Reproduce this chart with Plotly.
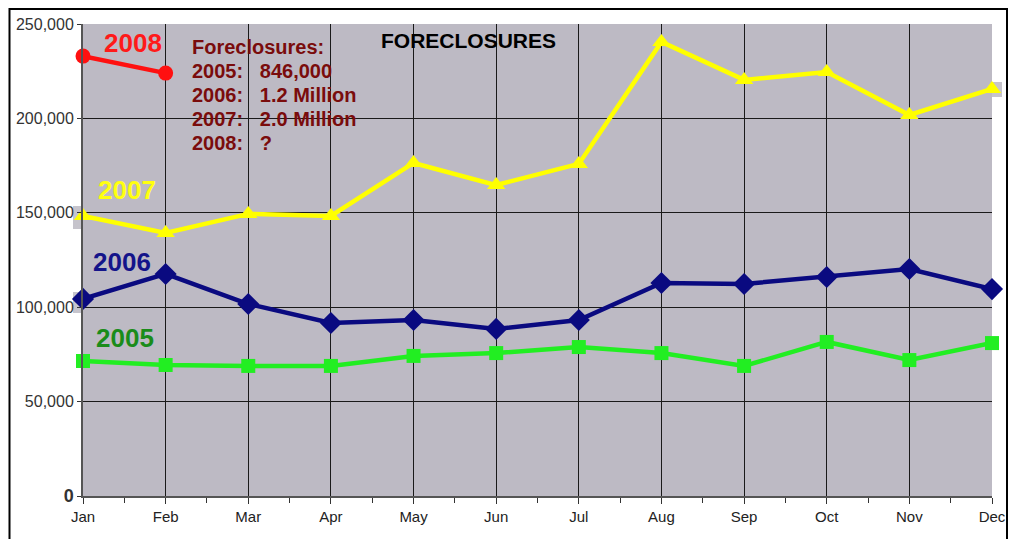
import plotly.graph_objects as go

months = ["Jan", "Feb", "Mar", "Apr", "May", "Jun", "Jul", "Aug", "Sep", "Oct", "Nov", "Dec"]
y2005 = [71500, 69400, 68900, 68900, 74200, 75700, 78900, 75700, 68900, 81600, 72000, 81000]
y2006 = [104400, 117600, 101700, 91600, 93200, 88500, 93200, 112800, 112300, 116000, 120200, 109600]
y2007 = [148300, 139300, 149400, 148300, 176400, 164700, 175900, 240500, 220400, 224600, 201800, 215600]
y2008 = [233000, 224000]
yticks = [0, 50000, 100000, 150000, 200000, 250000]
yticktext = ["<b><span style='font-size:18px'>0</span></b>", "50,000", "100,000", "150,000", "200,000", "250,000"]
notes = ["Foreclosures:", "2005:&nbsp;&nbsp;&nbsp;846,000", "2006:&nbsp;&nbsp;&nbsp;1.2 Million",
         "2007:&nbsp;&nbsp;&nbsp;2.0 Million", "2008:&nbsp;&nbsp;&nbsp;?"]

xs = list(range(len(months)))

fig = go.Figure()
fig.add_trace(go.Scatter(x=xs, y=y2005, mode="lines+markers", cliponaxis=False,
                         line=dict(color="#22ee22", width=4.5),
                         marker=dict(symbol="square", size=14, color="#22ee22")))
fig.add_trace(go.Scatter(x=xs, y=y2006, mode="lines+markers", cliponaxis=False,
                         line=dict(color="#0a0a80", width=4.5),
                         marker=dict(symbol="diamond", size=17, color="#0a0a80")))
fig.add_trace(go.Scatter(x=xs, y=y2007, mode="lines+markers", cliponaxis=False,
                         line=dict(color="#ffff00", width=4.5),
                         marker=dict(symbol="triangle-up", size=16, color="#ffff00")))
fig.add_trace(go.Scatter(x=xs[:len(y2008)], y=y2008, mode="lines+markers", cliponaxis=False,
                         line=dict(color="#ff1010", width=4.5),
                         marker=dict(symbol="circle", size=15, color="#ff1010")))

OFF = 8  # page body margin
W, H = 1016 - OFF, 539 - OFF
L, T = 83 - OFF, 24 - OFF
R = W - (992 - OFF)
B = H - (496 - OFF)
pw, ph = W - L - R, H - T - B


def px(x):
    return (x - OFF - L) / pw


def py(y):
    return (H - B - (y - OFF)) / ph


ann = []
labels = [("2008", "#ff1a1a", 133, 43), ("2007", "#ffff10", 127, 190),
          ("2006", "#14148a", 122, 262), ("2005", "#1a8c1a", 125, 338)]
for txt, col, x, y in labels:
    ann.append(dict(text=f"<b>{txt}</b>", x=px(x), y=py(y), xref="paper", yref="paper",
                    showarrow=False, font=dict(family="Arial", size=26, color=col),
                    xanchor="center", yanchor="middle"))
for i, line in enumerate(notes):
    ann.append(dict(text=f"<b>{line}</b>", x=px(190), y=py(47 + 24 * i), xref="paper", yref="paper",
                    showarrow=False, font=dict(family="Arial", size=20, color="#7a0c0c"),
                    xanchor="left", yanchor="middle"))
ann.append(dict(text="<b>FORECLOSURES</b>", x=px(468), y=py(40), xref="paper", yref="paper",
                showarrow=False, font=dict(family="Arial", size=21, color="#000000"),
                xanchor="center", yanchor="middle"))

shapes = [
    dict(type="rect", xref="paper", yref="paper", x0=px(1008), x1=px(1017), y0=py(545), y1=py(14),
         fillcolor="#c4c4c4", line=dict(width=0), layer="below"),
    dict(type="rect", xref="paper", yref="paper", x0=px(73), x1=px(83), y0=py(229), y1=py(206),
         fillcolor="#c6c4cc", line=dict(width=0), layer="below"),
    dict(type="rect", xref="paper", yref="paper", x0=px(73), x1=px(83), y0=py(313), y1=py(292),
         fillcolor="#c6c4cc", line=dict(width=0), layer="below"),
    dict(type="rect", xref="paper", yref="paper", x0=px(992), x1=px(1002), y0=py(97), y1=py(82),
         fillcolor="#c6c4cc", line=dict(width=0), layer="below"),
    dict(type="line", xref="paper", yref="paper", x0=px(9), x1=px(1007), y0=py(9), y1=py(9),
         line=dict(color="#000000", width=2)),
    dict(type="line", xref="paper", yref="paper", x0=px(9.5), x1=px(9.5), y0=py(8), y1=py(545),
         line=dict(color="#000000", width=2)),
    dict(type="line", xref="paper", yref="paper", x0=px(1007), x1=px(1007), y0=py(8), y1=py(545),
         line=dict(color="#000000", width=2)),
]

fig.update_layout(
    width=W, height=H,
    margin=dict(l=L, r=R, t=T, b=B, autoexpand=False),
    paper_bgcolor="white",
    plot_bgcolor="#bdbac4",
    showlegend=False,
    annotations=ann,
    shapes=shapes,
    xaxis=dict(range=[0, 11], tickvals=xs, ticktext=months, showgrid=True,
               gridcolor="#1a1a1a", gridwidth=1, zeroline=False,
               showline=True, linecolor="#555555", linewidth=2,
               ticks="outside", ticklen=6, tickcolor="#333333",
               minor=dict(ticks="outside", dtick=0.5, ticklen=5, tickcolor="#333333", showgrid=False),
               tickfont=dict(family="Arial", size=15, color="#222222")),
    yaxis=dict(range=[0, 250000], tickvals=yticks, ticktext=yticktext, showgrid=True,
               gridcolor="#1a1a1a", gridwidth=1, zeroline=False,
               showline=True, linecolor="#555555", linewidth=2,
               ticks="outside", ticklen=4, tickcolor="#333333",
               tickfont=dict(family="Arial", size=16, color="#333333")),
)

fig.write_html("out.html")
